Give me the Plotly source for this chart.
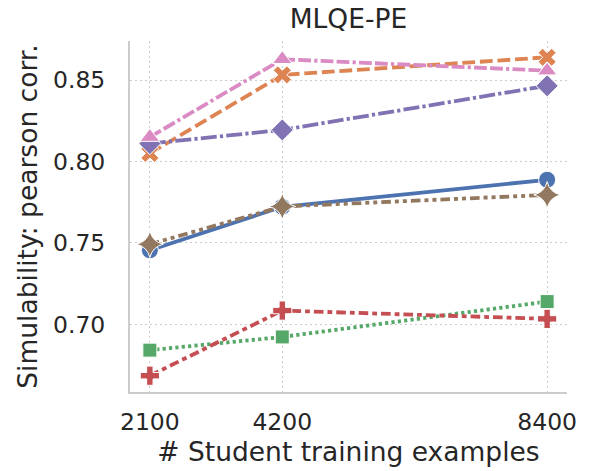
import plotly.graph_objects as go

x_examples = [2100, 4200, 8400]
tick_labels = ["2100", "4200", "8400"]
y_ticks = [0.70, 0.75, 0.80, 0.85]
y_tick_labels = ["0.70", "0.75", "0.80", "0.85"]

series_blue = [0.7455, 0.7722, 0.7888]
series_orange = [0.8050, 0.8532, 0.8640]
series_green = [0.6842, 0.6923, 0.7140]
series_red = [0.6685, 0.7085, 0.7034]
series_purple = [0.8110, 0.8194, 0.8465]
series_brown = [0.7492, 0.7724, 0.7795]
series_pink = [0.8150, 0.8628, 0.8558]

series = [
    ("s1", series_blue, "#4C72B0", "solid", "circle", 17),
    ("s2", series_orange, "#DD8452", "12.8px,4.8px", "x", 16),
    ("s3", series_green, "#55A868", "3.2px,3.2px", "square", 14),
    ("s4", series_red, "#C44E52", "9.6px,4px,4.8px,4px", "cross", 16),
    ("s5", series_purple, "#8172B3", "16px,3.2px,3.2px,3.2px", "diamond", 17),
    ("s6", series_brown, "#937860", "9.6px,4px,4px,4px,4px,4px", "star-diamond", 19),
    ("s7", series_pink, "#DA8BC3", "12.8px,3.2px,12.8px,3.2px,3.2px,3.2px", "triangle-up", 17),
]

fig = go.Figure()
for name, vals, color, dash, sym, size in series:
    fig.add_trace(go.Scatter(
        x=x_examples, y=vals, name=name, mode="lines+markers",
        line=dict(color=color, width=3.8, dash=dash),
        marker=dict(symbol=sym, size=size, color=color,
                    line=dict(color="white", width=1)),
        showlegend=False,
    ))

font_family = "DejaVu Sans"
text_color = "#262626"

fig.update_layout(
    width=592, height=471,
    margin=dict(l=130, r=25, t=41, b=76),
    paper_bgcolor="white", plot_bgcolor="white",
    font=dict(family=font_family, color=text_color, size=23),
    title=dict(text="MLQE-PE", x=0.5, xref="paper", xanchor="center",
               y=1, yref="container", yanchor="top", pad=dict(t=9),
               font=dict(size=26.5, family=font_family, color=text_color)),
    showlegend=False,
)
fig.update_xaxes(
    range=[1785, 8715], tickvals=x_examples, ticktext=tick_labels,
    showline=True, linecolor="#cccccc", linewidth=2,
    showgrid=True, gridcolor="#cccccc", gridwidth=1, griddash="2px,3px",
    zeroline=False, ticks="", ticklabelstandoff=8,
    tickfont=dict(size=23.5),
    title=dict(text="# Student training examples", font=dict(size=26.5), standoff=4),
)
fig.update_yaxes(
    range=[0.6585, 0.874], tickvals=y_ticks, ticktext=y_tick_labels,
    showline=True, linecolor="#cccccc", linewidth=2,
    showgrid=True, gridcolor="#cccccc", gridwidth=1, griddash="2px,3px",
    zeroline=False, ticks="", ticklabelstandoff=18,
    tickfont=dict(size=23.5),
    title=dict(text="Simulability: pearson corr.", font=dict(size=26.5), standoff=8),
)

fig.write_html(
    "out.html",
    config={"displayModeBar": False},
    post_script="document.body.style.margin='0';document.body.style.overflow='hidden';",
)
